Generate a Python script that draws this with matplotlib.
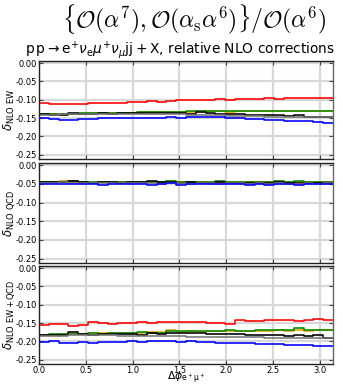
import numpy as np
import matplotlib
matplotlib.use("Agg")
import matplotlib.pyplot as plt

plt.rcParams["axes.unicode_minus"] = False
plt.rcParams["font.family"] = "DejaVu Sans"

# 30 bins in the azimuthal separation of the positron and the muon
n_bins = 30
edges = np.linspace(0.0, np.pi, n_bins + 1)

# ---- NLO EW relative corrections ----
ew_red = [-0.110, -0.111, -0.111, -0.112, -0.111, -0.108, -0.109, -0.109, -0.108, -0.107,
          -0.106, -0.103, -0.106, -0.103, -0.102, -0.101, -0.101, -0.100, -0.099, -0.100,
          -0.098, -0.098, -0.097, -0.096, -0.097, -0.096, -0.096, -0.095, -0.095, -0.095]
ew_orange = [-0.140, -0.140, -0.139, -0.138, -0.138, -0.137, -0.137, -0.136, -0.135, -0.135,
             -0.134, -0.134, -0.134, -0.133, -0.133, -0.133, -0.132, -0.132, -0.132, -0.133,
             -0.132, -0.131, -0.131, -0.131, -0.132, -0.131, -0.130, -0.131, -0.130, -0.130]
ew_green = [-0.139, -0.139, -0.138, -0.138, -0.137, -0.137, -0.136, -0.136, -0.135, -0.135,
            -0.134, -0.134, -0.133, -0.133, -0.133, -0.132, -0.132, -0.132, -0.131, -0.132,
            -0.131, -0.131, -0.131, -0.130, -0.131, -0.130, -0.130, -0.130, -0.130, -0.130]
ew_black = [-0.140, -0.142, -0.141, -0.137, -0.139, -0.138, -0.137, -0.138, -0.136, -0.135,
            -0.136, -0.135, -0.136, -0.137, -0.136, -0.138, -0.134, -0.137, -0.139, -0.140,
            -0.140, -0.141, -0.142, -0.141, -0.143, -0.144, -0.143, -0.146, -0.148, -0.146]
ew_gray = [-0.141, -0.141, -0.140, -0.140, -0.140, -0.140, -0.139, -0.139, -0.139, -0.139,
           -0.139, -0.139, -0.140, -0.140, -0.140, -0.141, -0.142, -0.142, -0.143, -0.144,
           -0.144, -0.145, -0.145, -0.146, -0.146, -0.147, -0.147, -0.147, -0.148, -0.148]
ew_blue = [-0.151, -0.152, -0.155, -0.154, -0.153, -0.152, -0.151, -0.150, -0.150, -0.150,
           -0.149, -0.149, -0.149, -0.148, -0.149, -0.148, -0.147, -0.148, -0.148, -0.150,
           -0.151, -0.152, -0.153, -0.154, -0.155, -0.157, -0.158, -0.159, -0.161, -0.163]

# ---- NLO QCD relative corrections ----
qcd_red = [-0.046, -0.044, -0.044, -0.041, -0.045, -0.047, -0.044, -0.046, -0.046, -0.047,
           -0.046, -0.045, -0.048, -0.045, -0.046, -0.045, -0.048, -0.047, -0.046, -0.048,
           -0.047, -0.046, -0.048, -0.047, -0.046, -0.048, -0.047, -0.046, -0.047, -0.046]
qcd_orange = [-0.044, -0.046, -0.043, -0.045, -0.044, -0.047, -0.045, -0.044, -0.046, -0.045,
              -0.045, -0.046, -0.044, -0.041, -0.046, -0.045, -0.046, -0.044, -0.047, -0.046,
              -0.045, -0.046, -0.044, -0.046, -0.043, -0.045, -0.046, -0.044, -0.044, -0.045]
qcd_green = [-0.044, -0.045, -0.044, -0.043, -0.045, -0.046, -0.045, -0.046, -0.045, -0.044,
             -0.046, -0.045, -0.044, -0.043, -0.045, -0.044, -0.045, -0.046, -0.043, -0.044,
             -0.046, -0.044, -0.045, -0.044, -0.041, -0.045, -0.043, -0.044, -0.046, -0.044]
qcd_black = [-0.046, -0.045, -0.045, -0.043, -0.046, -0.047, -0.046, -0.046, -0.047, -0.045,
             -0.046, -0.043, -0.046, -0.046, -0.047, -0.046, -0.048, -0.047, -0.046, -0.048,
             -0.047, -0.047, -0.048, -0.047, -0.046, -0.048, -0.047, -0.048, -0.047, -0.047]
qcd_gray = [-0.047, -0.048, -0.046, -0.047, -0.048, -0.047, -0.048, -0.047, -0.047, -0.048,
            -0.047, -0.048, -0.049, -0.047, -0.048, -0.049, -0.048, -0.047, -0.049, -0.048,
            -0.048, -0.049, -0.048, -0.049, -0.048, -0.049, -0.049, -0.048, -0.049, -0.048]
qcd_blue = [-0.049, -0.049, -0.050, -0.049, -0.050, -0.049, -0.052, -0.050, -0.049, -0.050,
            -0.049, -0.052, -0.049, -0.048, -0.053, -0.050, -0.049, -0.050, -0.051, -0.050,
            -0.050, -0.052, -0.051, -0.052, -0.050, -0.051, -0.052, -0.050, -0.051, -0.050]

# ---- NLO EW+QCD relative corrections ----
mix_red = [-0.154, -0.152, -0.153, -0.157, -0.156, -0.148, -0.150, -0.152, -0.149, -0.150,
           -0.148, -0.151, -0.148, -0.147, -0.148, -0.148, -0.147, -0.149, -0.150, -0.152,
           -0.143, -0.145, -0.144, -0.143, -0.142, -0.143, -0.144, -0.143, -0.138, -0.142]
mix_orange = [-0.182, -0.182, -0.181, -0.180, -0.179, -0.178, -0.178, -0.178, -0.177, -0.177,
              -0.176, -0.175, -0.174, -0.170, -0.175, -0.173, -0.174, -0.172, -0.173, -0.172,
              -0.172, -0.171, -0.172, -0.171, -0.170, -0.172, -0.170, -0.171, -0.169, -0.168]
mix_green = [-0.182, -0.181, -0.181, -0.180, -0.179, -0.178, -0.179, -0.178, -0.177, -0.176,
             -0.175, -0.177, -0.176, -0.172, -0.173, -0.172, -0.173, -0.173, -0.172, -0.170,
             -0.171, -0.171, -0.170, -0.169, -0.170, -0.169, -0.164, -0.169, -0.168, -0.168]
mix_black = [-0.184, -0.183, -0.182, -0.175, -0.180, -0.182, -0.181, -0.181, -0.180, -0.180,
             -0.182, -0.178, -0.179, -0.178, -0.177, -0.178, -0.176, -0.180, -0.179, -0.181,
             -0.181, -0.183, -0.182, -0.183, -0.183, -0.185, -0.184, -0.185, -0.182, -0.190]
mix_gray = [-0.185, -0.185, -0.185, -0.184, -0.184, -0.184, -0.184, -0.184, -0.185, -0.185,
            -0.185, -0.185, -0.186, -0.186, -0.186, -0.187, -0.187, -0.188, -0.188, -0.188,
            -0.189, -0.189, -0.189, -0.190, -0.190, -0.191, -0.190, -0.191, -0.191, -0.192]
mix_blue = [-0.201, -0.200, -0.204, -0.205, -0.203, -0.204, -0.203, -0.202, -0.201, -0.200,
            -0.201, -0.199, -0.200, -0.199, -0.201, -0.200, -0.203, -0.202, -0.204, -0.205,
            -0.205, -0.205, -0.206, -0.207, -0.208, -0.209, -0.209, -0.211, -0.212, -0.212]

colors = ["#ff0000", "#e6a400", "#008800", "#000000", "#777777", "#0000ff"]
panels = [
    ([ew_red, ew_orange, ew_green, ew_black, ew_gray, ew_blue],
     r"$\delta_{\mathrm{NLO\ EW}}$"),
    ([qcd_red, qcd_orange, qcd_green, qcd_black, qcd_gray, qcd_blue],
     r"$\delta_{\mathrm{NLO\ QCD}}$"),
    ([mix_red, mix_orange, mix_green, mix_black, mix_gray, mix_blue],
     r"$\delta_{\mathrm{NLO\ EW+QCD}}$"),
]

W, H = 343, 388
fig = plt.figure(figsize=(W / 100, H / 100), dpi=100)

left, right = 39, 333
boxes = [(61, 159), (163, 263), (266, 364)]
yticks = [0.00, -0.05, -0.10, -0.15, -0.20, -0.25]
xticks = [0.0, 0.5, 1.0, 1.5, 2.0, 2.5, 3.0]

axes = []
for (series, ylab), (top, bot) in zip(panels, boxes):
    ax = fig.add_axes([left / W, 1 - bot / H, (right - left) / W, (bot - top) / H])
    axes.append(ax)
    for v in xticks:
        ax.axvline(v, color="#d8d8d8", lw=1.6, zorder=0)
    for v in yticks:
        ax.axhline(v, color="#d8d8d8", lw=1.6, zorder=0)
    for vals, c in zip(series, colors):
        vals = np.asarray(vals)
        y = np.append(vals, vals[-1])
        ax.fill_between(edges, y - 0.0025, y + 0.0025, step="post",
                        color=c, alpha=0.18, lw=0, zorder=1)
        ax.step(edges, y, where="post", color=c, lw=1.1, zorder=2)
    ax.set_xlim(0, np.pi)
    ax.set_ylim(-0.262, 0.006)
    ax.set_yticks(yticks)
    ax.set_yticklabels(["%.2f" % t if t == 0 else "-%.2f" % abs(t) for t in yticks])
    ax.set_xticks(xticks)
    ax.tick_params(axis="both", labelsize=6.0, direction="in", length=3,
                   width=0.8, color="#444444", pad=1.2)
    ax.tick_params(axis="x", top=True)
    ax.tick_params(axis="y", right=True)
    for side, sp in ax.spines.items():
        sp.set_color("#222222" if side in ("left", "bottom", "top") else "#666666")
        sp.set_linewidth(1.0)
    ax.set_ylabel(ylab, fontsize=8.5)
    ax.yaxis.set_label_coords(-0.075, 0.5)

for ax in axes[:-1]:
    ax.set_xticklabels([])

# x-axis label placed just above the bottom edge of the figure
fig.text((left + right) / 2 / W, 2 / H, r"$\Delta\phi_{\mathrm{e^+\mu^+}}$",
         fontsize=7.8, ha="center", va="bottom")

fig.text(194 / W, 1 - 19 / H,
         r"$\{\mathcal{O}(\alpha^7),\mathcal{O}(\alpha_{\mathrm{s}}\alpha^6)\}/\mathcal{O}(\alpha^6)$",
         fontsize=17, ha="center", va="center", math_fontfamily="cm")
fig.text(180 / W, 1 - 50 / H,
         r"$\mathrm{p\,p}\rightarrow\mathrm{e}^{+}\nu_{\mathrm{e}}\mu^{+}\nu_{\mu}\mathrm{jj}+\mathrm{X}$, relative NLO corrections",
         fontsize=9.9, ha="center", va="center", math_fontfamily="dejavusans")

fig.savefig("out.png", dpi=100)
